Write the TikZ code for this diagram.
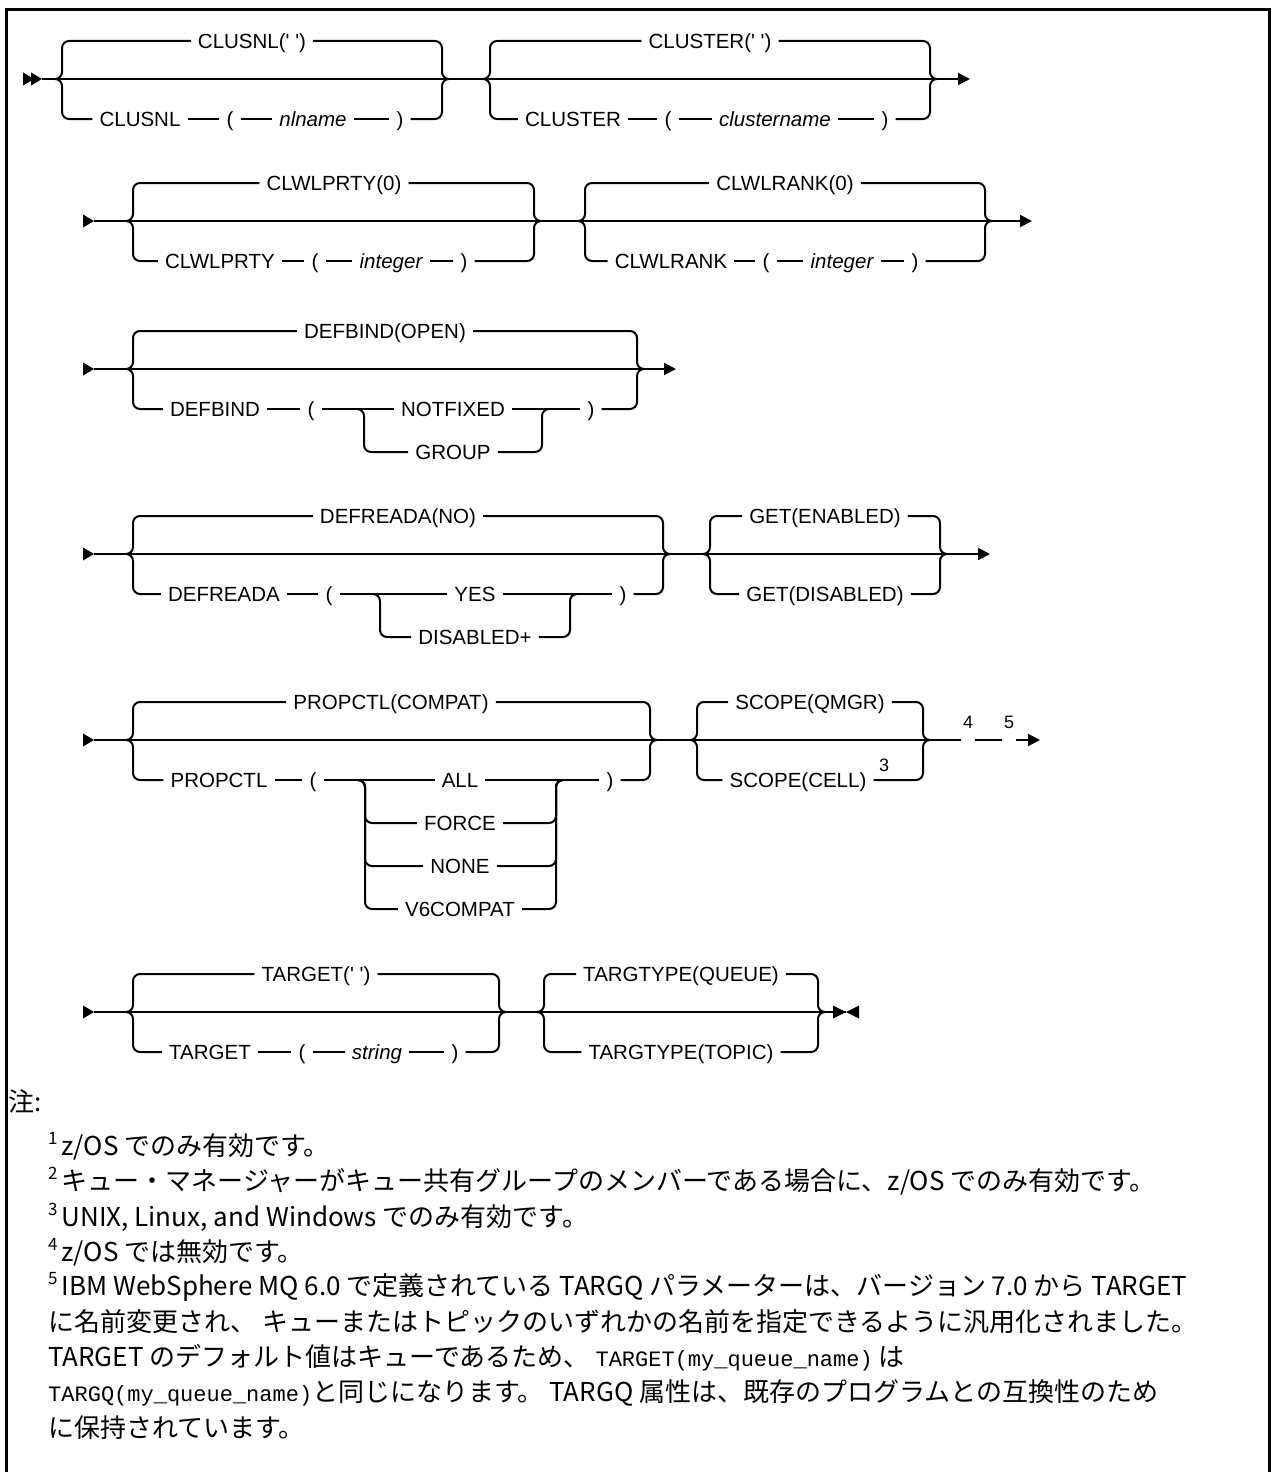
\documentclass[tikz,border=0pt]{standalone}
\usepackage{fontspec}
\setmainfont{Liberation Sans}
\setmonofont{Liberation Mono}
\newfontfamily\jpfont{Noto Sans CJK JP}
\usetikzlibrary{arrows.meta}
\newcommand\railin[2]{\draw[rail] (#1) -- ++(7,0) |- (#2);}
\newcommand\railout[2]{\draw[rail] (#1) -| ([xshift=-7pt]#2) -- (#2);}
\newcommand\startmark[1]{\fill[shift={(#1)}] (-11,-6.5) -- (0,0) -- (-11,6.5) -- cycle;}
\newcommand\nsup[1]{\raisebox{0.42em}{\fontsize{17}{17}\selectfont #1}\hspace{4pt}}
\newcommand\q{\textquotesingle}
\newcommand\cd[1]{{\ttfamily\fontsize{22}{26}\selectfont #1}}
\begin{document}
\begin{tikzpicture}[x=1pt,y=-1pt,
  rail/.style={line width=2pt, rounded corners=7pt},
  tip/.style={-{Triangle[length=12pt,width=12pt]}},
  lbl/.style={font=\fontsize{20.5}{24}\selectfont, inner xsep=7pt, inner ysep=0pt, text height=14.7pt, text depth=0pt},
  var/.style={lbl, font=\fontsize{20.5}{24}\selectfont\itshape},
  supn/.style={font=\fontsize{18}{18}\selectfont, inner xsep=1.5pt, inner ysep=0pt},
  note/.style={font=\jpfont\fontsize{26}{30}\selectfont, anchor=west, inner sep=0pt}]
\useasboundingbox (0,0) rectangle (1274,1472);
% frame
\draw[line width=3pt] (6.5,1472) -- (6.5,9.5) -- (1269.5,9.5) -- (1269.5,1472);

%================ Row 1 ================
\coordinate (s1) at (42,79);
\fill[shift={(s1)}] (-19,-6.5) -- (-8,0) -- (-19,6.5) -- cycle;
\fill[shift={(s1)}] (-11,-6.5) -- (0,0) -- (-11,6.5) -- cycle;
\coordinate (a11L) at (55,79);  \coordinate (a11R) at (449,79);
\coordinate (a12L) at (483,79); \coordinate (a12R) at (937,79);
\coordinate (e1) at (970,79);
\draw[rail] (s1) -- (a11L) -- (a11R) -- (a12L) -- (a12R);
\draw[line width=2pt,tip] (a12R) -- (e1);
% group 1
\node[lbl] (t11) at (252,41) {CLUSNL(\q\ \q)};
\railin{a11L}{t11.west} \railout{t11.east}{a11R}
\node[lbl] (b111) at (140,119) {CLUSNL};
\node[lbl] (b112) at (230,119) {(};
\node[var] (b113) at (313,119) {nlname};
\node[lbl] (b114) at (400,119) {)};
\railin{a11L}{b111.west}
\draw[rail] (b111.east) -- (b112.west) (b112.east) -- (b113.west) (b113.east) -- (b114.west);
\railout{b114.east}{a11R}
% group 2
\node[lbl] (t12) at (710,41) {CLUSTER(\q\ \q)};
\railin{a12L}{t12.west} \railout{t12.east}{a12R}
\node[lbl] (b121) at (573,119) {CLUSTER};
\node[lbl] (b122) at (668,119) {(};
\node[var] (b123) at (775,119) {clustername};
\node[lbl] (b124) at (885,119) {)};
\railin{a12L}{b121.west}
\draw[rail] (b121.east) -- (b122.west) (b122.east) -- (b123.west) (b123.east) -- (b124.west);
\railout{b124.east}{a12R}

%================ Row 2 ================
\coordinate (s2) at (94,221); \startmark{s2}
\coordinate (a21L) at (126,221); \coordinate (a21R) at (541,221);
\coordinate (a22L) at (578,221); \coordinate (a22R) at (992,221);
\coordinate (e2) at (1032,221);
\draw[rail] (s2) -- (a21L) -- (a21R) -- (a22L) -- (a22R);
\draw[line width=2pt,tip] (a22R) -- (e2);
\node[lbl] (t21) at (334,183) {CLWLPRTY(0)};
\railin{a21L}{t21.west} \railout{t21.east}{a21R}
\node[lbl] (b211) at (220,261) {CLWLPRTY};
\node[lbl] (b212) at (315,261) {(};
\node[var] (b213) at (391,261) {integer};
\node[lbl] (b214) at (464,261) {)};
\railin{a21L}{b211.west}
\draw[rail] (b211.east) -- (b212.west) (b212.east) -- (b213.west) (b213.east) -- (b214.west);
\railout{b214.east}{a21R}
\node[lbl] (t22) at (785,183) {CLWLRANK(0)};
\railin{a22L}{t22.west} \railout{t22.east}{a22R}
\node[lbl] (b221) at (671,261) {CLWLRANK};
\node[lbl] (b222) at (766,261) {(};
\node[var] (b223) at (842,261) {integer};
\node[lbl] (b224) at (915,261) {)};
\railin{a22L}{b221.west}
\draw[rail] (b221.east) -- (b222.west) (b222.east) -- (b223.west) (b223.east) -- (b224.west);
\railout{b224.east}{a22R}

%================ Row 3 ================
\coordinate (s3) at (94,369); \startmark{s3}
\coordinate (a31L) at (126,369); \coordinate (a31R) at (644,369);
\coordinate (e3) at (676,369);
\draw[rail] (s3) -- (a31L) -- (a31R);
\draw[line width=2pt,tip] (a31R) -- (e3);
\node[lbl] (t31) at (385,331) {DEFBIND(OPEN)};
\railin{a31L}{t31.west} \railout{t31.east}{a31R}
\node[lbl] (b311) at (215,409) {DEFBIND};
\node[lbl] (b312) at (311,409) {(};
\coordinate (c3L) at (357,409); \coordinate (c3R) at (549,409);
\node[lbl] (o31) at (453,409) {NOTFIXED};
\node[lbl] (o32) at (453,452) {GROUP};
\node[lbl] (b314) at (591,409) {)};
\railin{a31L}{b311.west}
\draw[rail] (b311.east) -- (b312.west) (b312.east) -- (c3L) -- (o31.west) (o31.east) -- (c3R) -- (b314.west);
\railin{c3L}{o32.west} \railout{o32.east}{c3R}
\railout{b314.east}{a31R}

%================ Row 4 ================
\coordinate (s4) at (94,554); \startmark{s4}
\coordinate (a41L) at (126,554); \coordinate (a41R) at (670,554);
\coordinate (a42L) at (703,554); \coordinate (a42R) at (947,554);
\coordinate (e4) at (990,554);
\draw[rail] (s4) -- (a41L) -- (a41R) -- (a42L) -- (a42R);
\draw[line width=2pt,tip] (a42R) -- (e4);
\node[lbl] (t41) at (398,516) {DEFREADA(NO)};
\railin{a41L}{t41.west} \railout{t41.east}{a41R}
\node[lbl] (b411) at (224,594) {DEFREADA};
\node[lbl] (b412) at (329,594) {(};
\coordinate (c4L) at (373,594); \coordinate (c4R) at (577,594);
\node[lbl] (o41) at (475,594) {YES};
\node[lbl] (o42) at (475,637) {DISABLED+};
\node[lbl] (b414) at (623,594) {)};
\railin{a41L}{b411.west}
\draw[rail] (b411.east) -- (b412.west) (b412.east) -- (c4L) -- (o41.west) (o41.east) -- (c4R) -- (b414.west);
\railin{c4L}{o42.west} \railout{o42.east}{c4R}
\railout{b414.east}{a41R}
\node[lbl] (t42) at (825,516) {GET(ENABLED)};
\railin{a42L}{t42.west} \railout{t42.east}{a42R}
\node[lbl] (b42) at (825,594) {GET(DISABLED)};
\railin{a42L}{b42.west} \railout{b42.east}{a42R}

%================ Row 5 ================
\coordinate (s5) at (94,740); \startmark{s5}
\coordinate (a51L) at (126,740); \coordinate (a51R) at (657,740);
\coordinate (a52L) at (690,740); \coordinate (a52R) at (930,740);
\coordinate (e5) at (1040,740);
\node[supn] (n4) at (968,722) {4};
\node[supn] (n5) at (1009,722) {5};
\draw[rail] (s5) -- (a51L) -- (a51R) -- (a52L) -- (a52R) -- (n4.west |- a52R);
\draw[rail] (n4.east |- a52R) -- (n5.west |- a52R);
\draw[line width=2pt,tip] (n5.east |- a52R) -- (e5);
\node[lbl] (t51) at (391,702) {PROPCTL(COMPAT)};
\railin{a51L}{t51.west} \railout{t51.east}{a51R}
\node[lbl] (b511) at (219,780) {PROPCTL};
\node[lbl] (b512) at (313,780) {(};
\coordinate (c5L) at (358,780); \coordinate (c5R) at (563,780);
\node[lbl] (o51) at (460,780) {ALL};
\node[lbl] (o52) at (460,823) {FORCE};
\node[lbl] (o53) at (460,866) {NONE};
\node[lbl] (o54) at (460,909) {V6COMPAT};
\node[lbl] (b514) at (610,780) {)};
\railin{a51L}{b511.west}
\draw[rail] (b511.east) -- (b512.west) (b512.east) -- (c5L) -- (o51.west) (o51.east) -- (c5R) -- (b514.west);
\railin{c5L}{o52.west} \railout{o52.east}{c5R}
\railin{c5L}{o53.west} \railout{o53.east}{c5R}
\railin{c5L}{o54.west} \railout{o54.east}{c5R}
\railout{b514.east}{a51R}
\node[lbl] (t52) at (810,702) {SCOPE(QMGR)};
\railin{a52L}{t52.west} \railout{t52.east}{a52R}
\node[lbl] (b52) at (798,780) {SCOPE(CELL)};
\node[supn] (n3) at (884,765) {3};
\railin{a52L}{b52.west} \railout{b52.east}{a52R}

%================ Row 6 ================
\coordinate (s6) at (94,1012); \startmark{s6}
\coordinate (a61L) at (126,1012); \coordinate (a61R) at (506,1012);
\coordinate (a62L) at (537,1012); \coordinate (a62R) at (825,1012);
\coordinate (e6) at (846,1012);
\draw[rail] (s6) -- (a61L) -- (a61R) -- (a62L) -- (a62R) -- (e6);
\fill[shift={(e6)}] (-13,-6.5) -- (0,0) -- (-13,6.5) -- cycle;
\fill[shift={(e6)}] (13,-6.5) -- (0,0) -- (13,6.5) -- cycle;
\node[lbl] (t61) at (316,974) {TARGET(\q\ \q)};
\railin{a61L}{t61.west} \railout{t61.east}{a61R}
\node[lbl] (b611) at (210,1052) {TARGET};
\node[lbl] (b612) at (302,1052) {(};
\node[var] (b613) at (377,1052) {string};
\node[lbl] (b614) at (455,1052) {)};
\railin{a61L}{b611.west}
\draw[rail] (b611.east) -- (b612.west) (b612.east) -- (b613.west) (b613.east) -- (b614.west);
\railout{b614.east}{a61R}
\node[lbl] (t62) at (681,974) {TARGTYPE(QUEUE)};
\railin{a62L}{t62.west} \railout{t62.east}{a62R}
\node[lbl] (b62) at (681,1052) {TARGTYPE(TOPIC)};
\railin{a62L}{b62.west} \railout{b62.east}{a62R}

%================ Notes ================
\node[note] (nh) at (8,1101) {注:};
\node[note] (nt1) at (48,1146) {\nsup{1}z/OS でのみ有効です。};
\node[note] (nt2) at (48,1181) {\nsup{2}キュー・マネージャーがキュー共有グループのメンバーである場合に、z/OS でのみ有効です。};
\node[note] (nt3) at (48,1217) {\nsup{3}UNIX, Linux, and Windows でのみ有効です。};
\node[note] (nt4) at (48,1252) {\nsup{4}z/OS では無効です。};
\node[note] (nt5) at (48,1287) {\nsup{5}IBM WebSphere MQ 6.0 で定義されている TARGQ パラメーターは、バージョン 7.0 から TARGET};
\node[note] (nt6) at (48,1322) {に名前変更され、 キューまたはトピックのいずれかの名前を指定できるように汎用化されました。};
\node[note] (nt7) at (48,1358) {TARGET のデフォルト値はキューであるため、 \cd{TARGET(my\_queue\_name)} は};
\node[note] (nt8) at (48,1393) {\cd{TARGQ(my\_queue\_name)}と同じになります。 TARGQ 属性は、既存のプログラムとの互換性のため};
\node[note] (nt9) at (48,1428) {に保持されています。};
\end{tikzpicture}
\end{document}
